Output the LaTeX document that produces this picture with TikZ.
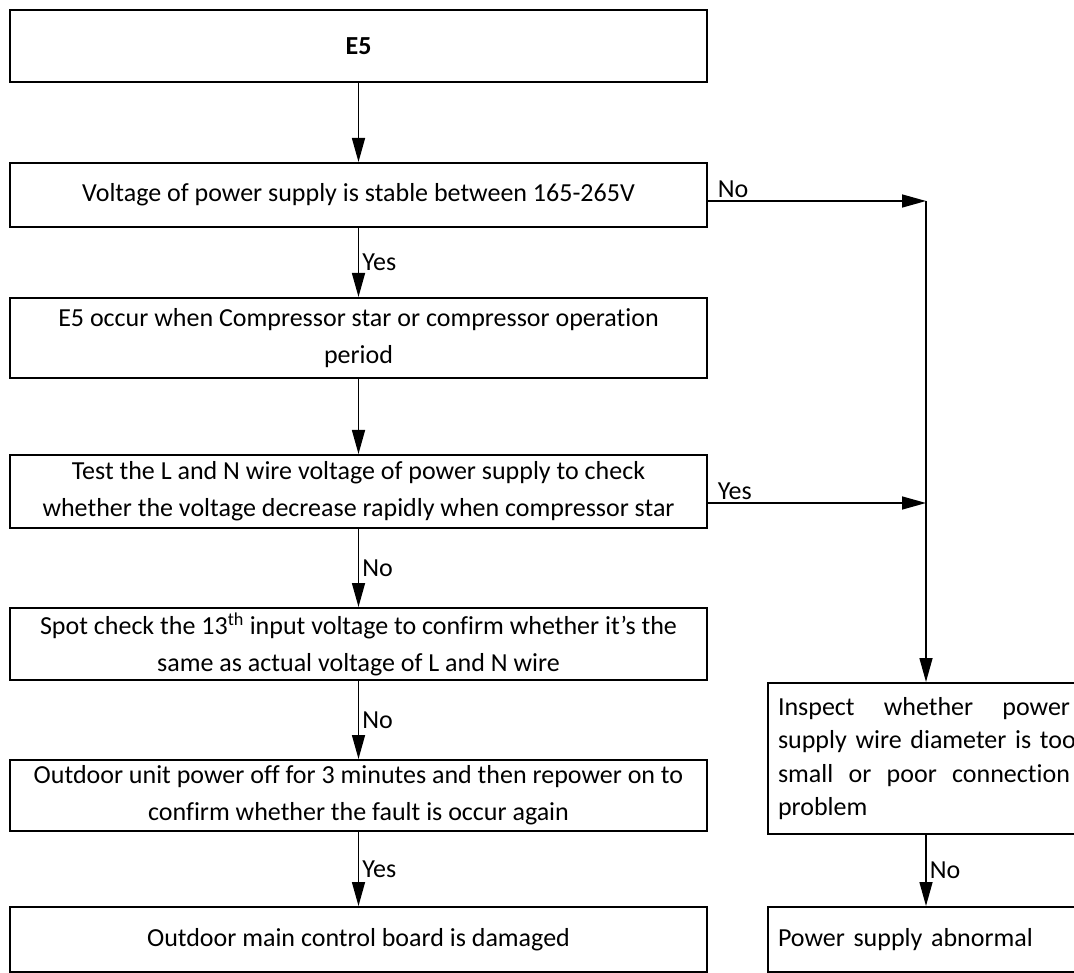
\documentclass[tikz,border=0pt]{standalone}
\usepackage{fontspec}
\setmainfont{Carlito}[Ligatures=NoCommon]
\usetikzlibrary{arrows.meta,positioning,calc}
\newcommand{\flowfont}{\fontsize{26}{37}\selectfont}
\newcommand{\sidefont}{\fontsize{26}{33.5}\selectfont}
\tikzset{
  stepbox/.style={draw=black, line width=2pt, align=center, minimum width=697pt, inner sep=0pt, font=\flowfont},
  sidebox/.style={draw=black, line width=2pt, align=left, text width=296pt, inner xsep=10pt, inner ysep=0pt, font=\sidefont},
  arrow/.style={-{Triangle[length=24pt,width=13pt]}, line width=1.5pt},
  lbl/.style={font=\flowfont, inner sep=3pt}
}

\begin{document}
\begin{tikzpicture}[x=1pt, y=-1pt]
    \useasboundingbox (0,0) rectangle (1074,973);
    \clip (0,0) rectangle (1074,973);

    \node[stepbox, minimum height=72pt] (e5) at (358.5,46) {\textbf{E5}};
    \node[stepbox, minimum height=64pt] (volt) at (358.5,195) {Voltage of power supply is stable between 165-265V};
    \node[stepbox, minimum height=80pt] (occur) at (358.5,338) {E5 occur when Compressor star or compressor operation\\period};
    \node[stepbox, minimum height=73pt] (test) at (358.5,491.5) {Test the L and N wire voltage of power supply to check\\whether the voltage decrease rapidly when compressor star};
    \node[stepbox, minimum height=72pt] (spot) at (358.5,644) {Spot check the 13\textsuperscript{th} input voltage to confirm whether it’s the\\same as actual voltage of L and N wire};
    \node[stepbox, minimum height=71pt] (off) at (358.5,795.5) {Outdoor unit power off for 3 minutes and then repower on to\\confirm whether the fault is occur again};
    \node[stepbox, minimum height=65pt] (board) at (358.5,939.5) {Outdoor main control board is damaged};

    \node[sidebox, minimum height=151pt] (inspect) at (926,758.5) {\makebox[292pt][l]{Inspect\hfill whether\hfill power}\\\makebox[292pt][l]{supply wire diameter is too}\\\makebox[292pt][l]{small\hfill or\hfill poor\hfill connection}\\problem};
    \node[sidebox, minimum height=65pt] (abnormal) at (926,939.5) {Power supply abnormal};

    \coordinate (j1) at (926,201);
    \coordinate (j2) at (926,503);

    \draw[arrow] (e5) -- (volt);
    \draw[arrow] (volt) -- node[lbl, right] {Yes} (occur);
    \draw[arrow] (occur) -- (test);
    \draw[arrow] (test) -- node[lbl, right] {No} (spot);
    \draw[arrow] (spot) -- node[lbl, right] {No} (off);
    \draw[arrow] (off) -- node[lbl, right] {Yes} (board);
    \draw[arrow] (volt.east |- j1) -- node[lbl, above right, pos=0, xshift=6pt] {No} (j1);
    \draw[arrow] (test.east |- j2) -- node[lbl, above right, pos=0, xshift=6pt] {Yes} (j2);
    \draw[arrow] (j1) -- (j1 |- inspect.north);
    \draw[arrow] (inspect.south -| j1) -- node[lbl, right] {No} (abnormal.north -| j1);
  \end{tikzpicture}
\end{document}
